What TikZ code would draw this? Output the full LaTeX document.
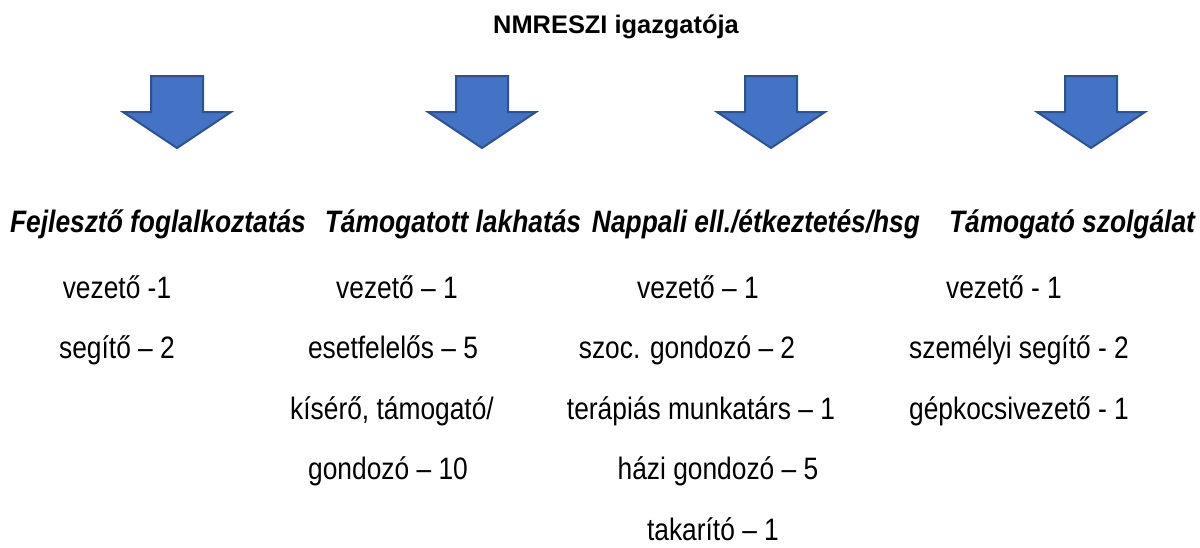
\documentclass[tikz,border=0pt]{standalone}
\usepackage{fontspec}
\setmainfont{Liberation Sans}
\definecolor{arrowblue}{HTML}{4472C4}
\definecolor{arrowedge}{HTML}{2F528F}
\tikzset{
	txt/.style={anchor=base, inner sep=0pt, xscale=0.85, font=\fontsize{31}{34}\selectfont},
	title/.style={anchor=base, inner sep=0pt, font=\fontsize{25.4}{30}\selectfont\bfseries},
	head/.style={txt, font=\fontsize{31}{34}\selectfont\bfseries\itshape},
	downarrow/.style={fill=arrowblue, draw=arrowedge, line width=2pt, line join=miter}
}

\begin{document}
\begin{tikzpicture}[x=1pt, y=-1pt]
			\useasboundingbox (0,0) rectangle (1200,547);
			\node[title] (igazgato) at (616,33) {NMRESZI igazgatója};
			
			% Nyilak
			\foreach \x in {177, 482, 771, 1091}{
				\draw[downarrow] (\x-26,76) -- (\x+26,76) -- (\x+26,112) -- (\x+54,112) -- (\x,148) -- (\x-54,112) -- (\x-26,112) -- cycle;}
			
			% Egysegek
			\node[head] (fejl) at (158,232) {Fejlesztő foglalkoztatás};
			\node[head] (lakh) at (453,232) {Támogatott lakhatás};
			\node[head] (napp) at (756,232) {Nappali ell./étkeztetés/hsg};
			\node[head] (szolg) at (1072,232) {Támogató szolgálat};
			
			% Fejleszto foglalkoztatas
			\node[txt] (fejl1) at (117,298) {vezető -1};
			\node[txt] (fejl2) at (117,358.5) {segítő – 2};
			
			% Tamogatott lakhatas
			\node[txt] (lakh1) at (397,298) {vezető – 1};
			\node[txt] (lakh2) at (393,358.5) {esetfelelős – 5};
			\node[txt] (lakh3) at (392,419) {kísérő, támogató/};
			\node[txt] (lakh4) at (388,479.5) {gondozó – 10};
			
			% Nappali ellatas
			\node[txt] (napp1) at (698,298) {vezető – 1};
			\node[txt] (napp2) at (687,358.5) {szoc. gondozó – 2};
			\node[txt] (napp3) at (701,419) {terápiás munkatárs – 1};
			\node[txt] (napp4) at (718,479.5) {házi gondozó – 5};
			\node[txt] (napp5) at (713,540) {takarító – 1};
			
			% Tamogato szolgalat
			\node[txt] (szolg1) at (1004,298) {vezető - 1};
			\node[txt] (szolg2) at (1019,358.5) {személyi segítő - 2};
			\node[txt] (szolg3) at (1019,419) {gépkocsivezető - 1};
\end{tikzpicture}
\end{document}
